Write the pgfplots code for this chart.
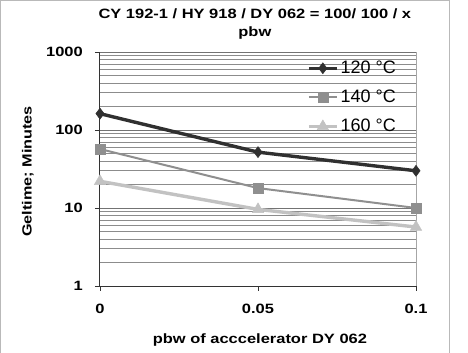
\documentclass[border=0pt]{standalone}
\usepackage{fontspec}
\setmainfont{Liberation Sans}[FakeStretch=1.22]
\newfontfamily\legfont{Liberation Sans}
\usepackage{pgfplots}
\pgfplotsset{compat=1.18}
\definecolor{cA}{HTML}{303030}
\definecolor{cB}{HTML}{8F8F8F}
\definecolor{cC}{HTML}{C2C2C2}
\begin{document}
\begin{tikzpicture}
\useasboundingbox (0pt,0pt) rectangle (468pt,353pt);
\draw[gray!55, line width=1pt] (0.5pt,-3pt) -- (0.5pt,352.5pt) -- (449pt,352.5pt) -- (449pt,-3pt);
\begin{axis}[
  at={(100pt,67pt)}, anchor=south west, scale only axis,
  width=316pt, height=234pt,
  ymode=log, ymin=1, ymax=1000, xmin=0, xmax=0.1,
  xtick={0,0.05,0.1}, xticklabels={0,0.05,0.1},
  ytick={1,10,100,1000}, yticklabels={1,10,100,1000},
  axis x line*=bottom, axis y line*=left,
  axis line style={black!80, line width=1pt},
  tick align=outside, major tick length=5pt, minor tick length=0pt,
  tick style={black!80, line width=0.8pt},
  ymajorgrids, yminorgrids,
  major grid style={black!55, line width=0.8pt},
  minor grid style={black!45, line width=0.7pt},
  extra x ticks={0.1}, extra x tick labels={},
  extra x tick style={xmajorgrids=true, major grid style={black!35, line width=1pt}},
  ticklabel style={font=\fontsize{13.5}{15}\selectfont\bfseries},
  yticklabel style={inner sep=0pt, xshift=-12pt},
  xticklabel style={inner sep=0pt, yshift=-13pt},
  title={CY 192-1 / HY 918 / DY 062 = 100/ 100 / x\\pbw},
  title style={font=\fontsize{13.5}{18}\selectfont\bfseries, align=center, inner sep=0pt,
     at={(0.49,1)}, anchor=south, yshift=6pt},
  xlabel={pbw of acccelerator DY 062},
  xlabel style={font=\fontsize{13.5}{15}\selectfont\bfseries, at={(0.506,-0.231)}, anchor=center},
  ylabel={Geltime; Minutes},
  ylabel style={font=\fontsize{13.3}{15}\selectfont\bfseries, at={(-0.228,0.49)}, anchor=center},
  legend style={draw=none, fill=none, font=\legfont\fontsize{18}{19}\selectfont,
     at={(0.943,0.97)}, anchor=north east, row sep=11pt, inner sep=0pt,
     cells={anchor=west}},
  legend image code/.code={\draw[mark repeat=2,mark phase=2] plot coordinates {(0pt,0pt) (14pt,0pt) (28pt,0pt)};},
  legend cell align=left,
]
\addplot[cA, line width=3.4pt, mark=diamond*, mark size=5.5pt, mark options={solid, line width=0.5pt}]
  coordinates {(0,162) (0.05,52) (0.1,30)};
\addlegendentry{120 °C}
\addplot[cB, line width=2pt, mark=square*, mark size=5pt, mark options={solid, line width=0.5pt}]
  coordinates {(0,57) (0.05,18) (0.1,10)};
\addlegendentry{140 °C}
\addplot[cC, line width=3.4pt, mark=triangle*, mark size=6.5pt, mark options={solid, line width=0.5pt}]
  coordinates {(0,22) (0.05,9.6) (0.1,5.7)};
\addlegendentry{160 °C}
\end{axis}
\end{tikzpicture}
\end{document}
